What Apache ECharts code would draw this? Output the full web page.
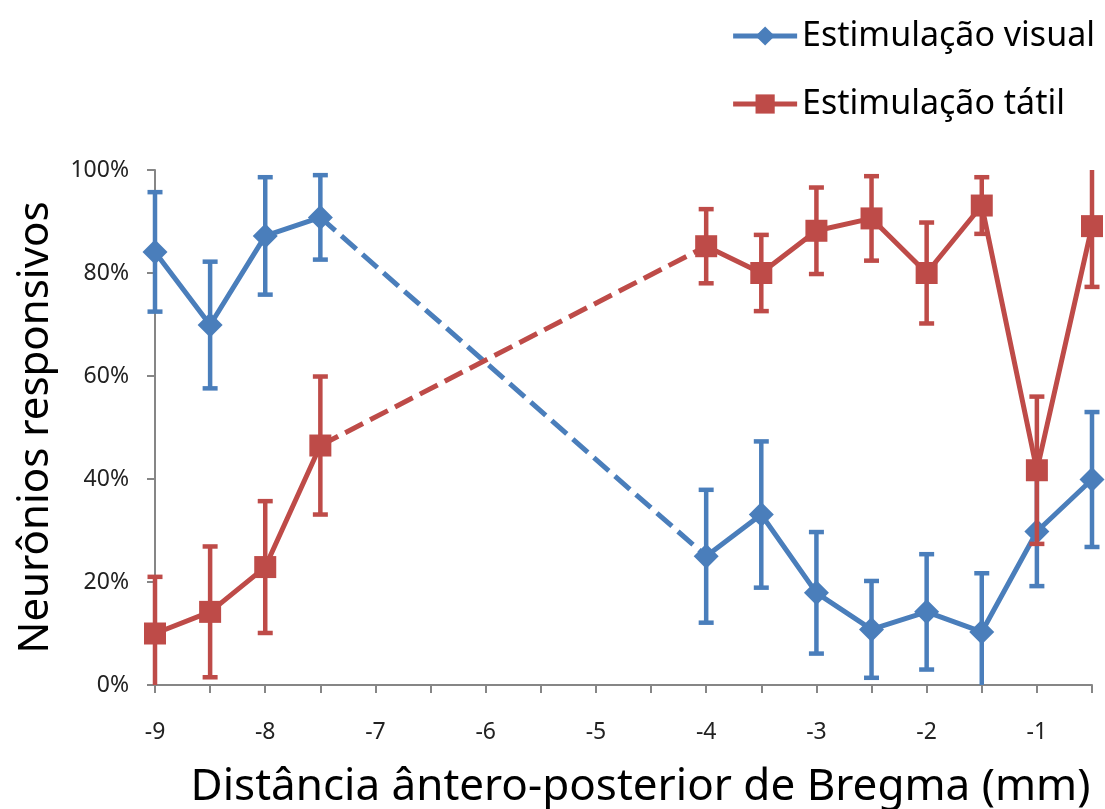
<!DOCTYPE html>
<html>
<head>
<meta charset="utf-8">
<script src="https://cdn.jsdelivr.net/npm/echarts@6/dist/echarts.min.js"></script>
<style>
  html, body { margin: 0; padding: 0; background: #fff; }
  #chart { width: 1105px; height: 809px; }
</style>
</head>
<body>
<div id="chart"></div>
<script>
// posições (mm de Bregma)
const xPos = [-9, -8.5, -8, -7.5, -4, -3.5, -3, -2.5, -2, -1.5, -1, -0.5];
// % neurônios responsivos
const visual = [84.1, 69.9, 87.2, 90.8, 25.0, 33.1, 17.9, 10.8, 14.2, 10.3, 29.8, 39.9];
const visualErr = [11.6, 12.3, 11.4, 8.2, 12.9, 14.2, 11.8, 9.4, 11.2, 11.4, 10.6, 13.1];
const tactile = [10.0, 14.2, 22.9, 46.5, 85.2, 80.0, 88.2, 90.6, 80.0, 93.1, 41.7, 89.1];
const tactileErr = [11.0, 12.7, 12.8, 13.4, 7.2, 7.4, 8.4, 8.2, 9.8, 5.5, 14.3, 11.8];
const yTicks = [0, 20, 40, 60, 80, 100];
// índice do último ponto antes do trecho tracejado
const gapAfter = 3;

const blue = '#4a7ebb';
const red = '#be4b48';
const fontFam = 'Noto Sans';

let myChart = echarts.init(document.getElementById('chart'));

function solidData(vals) {
    let out = [];
    xPos.forEach((x, i) => {
        out.push([x, vals[i]]);
        if (i === gapAfter) out.push('-');
    });
    return out;
}

function dashData(vals) {
    return [[xPos[gapAfter], vals[gapAfter]], [xPos[gapAfter + 1], vals[gapAfter + 1]]];
}

function errData(vals, errs) {
    return xPos.map((x, i) => [x, vals[i] - errs[i], vals[i] + errs[i]]);
}

// barras de erro (cortadas em 0% e 100%, sem traço final quando cortadas)
function errorBar(color) {
    return function(params, api) {
        let x = api.value(0);
        let lo = api.value(1);
        let hi = api.value(2);
        let top = api.coord([x, Math.min(100, hi)]);
        let bot = api.coord([x, Math.max(0, lo)]);
        let hw = 7.5;
        let st = { stroke: color, lineWidth: 4.5 };
        let children = [{
            type: 'line',
            shape: { x1: top[0], y1: top[1], x2: bot[0], y2: bot[1] },
            style: st
        }];
        if (hi <= 100) {
            children.push({ type: 'line', shape: { x1: top[0] - hw, y1: top[1], x2: top[0] + hw, y2: top[1] }, style: st });
        }
        if (lo >= 0) {
            children.push({ type: 'line', shape: { x1: bot[0] - hw, y1: bot[1], x2: bot[0] + hw, y2: bot[1] }, style: st });
        }
        return { type: 'group', children: children };
    };
}

let option = {
    animation: false,
    textStyle: { fontFamily: fontFam },
    legend: {
        data: ['Estimulação visual', 'Estimulação tátil'],
        orient: 'vertical',
        right: 5,
        top: 14,
        itemGap: 34,
        itemWidth: 64,
        itemHeight: 24,
        lineStyle: { width: 5 },
        textStyle: { fontSize: 34, color: '#000', fontFamily: fontFam }
    },
    grid: {
        left: 155,
        right: 13,
        top: 170,
        bottom: 124,
        outerBoundsMode: 'none'
    },
    xAxis: {
        type: 'value',
        min: -9,
        max: -0.5,
        interval: 0.5,
        name: 'Distância ântero-posterior de Bregma (mm)',
        nameLocation: 'middle',
        nameGap: 80,
        nameTextStyle: { fontSize: 44, color: '#000', padding: [0, 0, 0, 34] },
        axisLine: { lineStyle: { color: '#868686', width: 2 } },
        axisTick: { length: 8, lineStyle: { color: '#868686', width: 2 } },
        axisLabel: {
            margin: 36,
            fontSize: 23,
            color: '#222',
            formatter: function(v) {
                return Number.isInteger(v) ? String(v) : '';
            }
        },
        splitLine: { show: false }
    },
    yAxis: {
        type: 'value',
        min: yTicks[0],
        max: yTicks[yTicks.length - 1],
        interval: 20,
        name: 'Neurônios responsivos',
        nameLocation: 'middle',
        nameRotate: 90,
        nameGap: 98,
        nameTextStyle: { fontSize: 42, color: '#000' },
        axisLine: { show: true, lineStyle: { color: '#868686', width: 2 } },
        axisTick: { show: true, length: 8, lineStyle: { color: '#868686', width: 2 } },
        axisLabel: {
            margin: 26,
            fontSize: 23,
            color: '#222',
            formatter: '{value}%'
        },
        splitLine: { show: false }
    },
    series: [
        {
            name: 'visual-err',
            type: 'custom',
            renderItem: errorBar(blue),
            data: errData(visual, visualErr),
            encode: { x: 0, y: [1, 2] },
            clip: false,
            z: 2
        },
        {
            name: 'visual-dash',
            type: 'line',
            data: dashData(visual),
            showSymbol: false,
            lineStyle: { color: blue, width: 5, type: [20, 8] },
            z: 3
        },
        {
            name: 'Estimulação visual',
            type: 'line',
            data: solidData(visual),
            symbol: 'diamond',
            symbolSize: 25,
            itemStyle: { color: blue },
            lineStyle: { color: blue, width: 5 },
            z: 4
        },
        {
            name: 'tactile-err',
            type: 'custom',
            renderItem: errorBar(red),
            data: errData(tactile, tactileErr),
            encode: { x: 0, y: [1, 2] },
            clip: false,
            z: 5
        },
        {
            name: 'tactile-dash',
            type: 'line',
            data: dashData(tactile),
            showSymbol: false,
            lineStyle: { color: red, width: 5, type: [20, 8] },
            z: 6
        },
        {
            name: 'Estimulação tátil',
            type: 'line',
            data: solidData(tactile),
            symbol: 'rect',
            symbolSize: 22,
            itemStyle: { color: red },
            lineStyle: { color: red, width: 5 },
            z: 7
        }
    ]
};

myChart.setOption(option);
</script>
</body>
</html>
